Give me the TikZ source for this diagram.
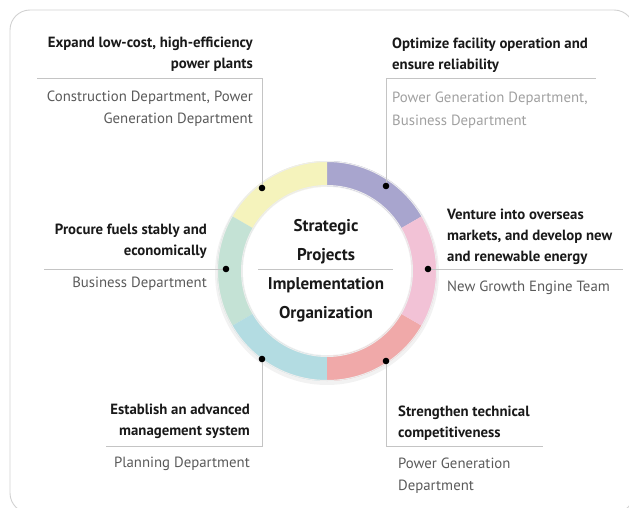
\documentclass[tikz,border=0pt]{standalone}
\usepackage{fontspec}
\setmainfont{PT Sans}
\usetikzlibrary{positioning}
\definecolor{ringyellow}{HTML}{F5F3BC}
\definecolor{ringpurple}{HTML}{A8A5CE}
\definecolor{ringpink}{HTML}{F2C2D6}
\definecolor{ringsalmon}{HTML}{F0A9A9}
\definecolor{ringblue}{HTML}{B3DCE2}
\definecolor{ringmint}{HTML}{C4E2D5}
\definecolor{deptgray}{HTML}{5A5A5A}
\definecolor{deptlight}{HTML}{A0A0A0}
\definecolor{leadgray}{HTML}{C4C4C4}

\begin{document}
\begin{tikzpicture}[x=1pt,y=-1pt,
  goal/.style={inner sep=0pt, font=\fontsize{14.8}{21}\selectfont\bfseries, text=black!90},
  dept/.style={inner sep=0pt, font=\fontsize{14.8}{22}\selectfont, text=deptgray},
  hub/.style={inner sep=0pt, align=center, font=\fontsize{17}{29}\selectfont\bfseries, text=black!90},
  leader/.style={leadgray, line width=0.8pt}]
\useasboundingbox (0,0) rectangle (629,508);
\draw[black!18, line width=0.9pt, rounded corners=20pt] (10,10) rectangle (634,513);

% ring
\begin{scope}[shift={(327,271)}, yscale=-1]
\fill[black!5] (0,-2) circle (112);
\fill[white] (0,0) circle (84);
\fill[ringpurple] (30:110) arc[start angle=30, end angle=90, radius=110] -- (90:85) arc[start angle=90, end angle=30, radius=85] -- cycle;
\fill[ringyellow] (90:110) arc[start angle=90, end angle=150, radius=110] -- (150:85) arc[start angle=150, end angle=90, radius=85] -- cycle;
\fill[ringmint] (150:110) arc[start angle=150, end angle=210, radius=110] -- (210:85) arc[start angle=210, end angle=150, radius=85] -- cycle;
\fill[ringblue] (210:110) arc[start angle=210, end angle=270, radius=110] -- (270:85) arc[start angle=270, end angle=210, radius=85] -- cycle;
\fill[ringsalmon] (270:110) arc[start angle=270, end angle=330, radius=110] -- (330:85) arc[start angle=330, end angle=270, radius=85] -- cycle;
\fill[ringpink] (-30:110) arc[start angle=-30, end angle=30, radius=110] -- (30:85) arc[start angle=30, end angle=-30, radius=85] -- cycle;
\draw[black!7, line width=1pt] (0,0) circle (109.5);
\draw[black!7, line width=1pt] (0,0) circle (85.5);
\end{scope}

% dots on the ring
\coordinate (dotyellow) at (262,188);
\coordinate (dotpurple) at (386,186);
\coordinate (dotpink) at (428,269);
\coordinate (dotsalmon) at (386,361);
\coordinate (dotblue) at (262,359);
\coordinate (dotmint) at (226,269);

% ends of the leaders
\coordinate (endyellow) at (37,78);
\coordinate (endpurple) at (596,78);
\coordinate (endpink) at (623,269);
\coordinate (endsalmon) at (543,446);
\coordinate (endblue) at (106,446);
\coordinate (endmint) at (44,269);
\coordinate (hubleft) at (258,269);
\coordinate (hubright) at (393,269);

\draw[leader] (dotyellow) |- (endyellow);
\draw[leader] (dotpurple) |- (endpurple);
\draw[leader] (dotpink) -- (endpink);
\draw[leader] (dotsalmon) |- (endsalmon);
\draw[leader] (dotblue) |- (endblue);
\draw[leader] (dotmint) -- (endmint);
\draw[leader] (hubleft) -- (hubright);

\fill[black] (dotyellow) circle (3.3);
\fill[black] (dotpurple) circle (3.3);
\fill[black] (dotpink) circle (3.3);
\fill[black] (dotsalmon) circle (3.3);
\fill[black] (dotblue) circle (3.3);
\fill[black] (dotmint) circle (3.3);

% centre
\node[hub, anchor=base] (strategic) at (326,260) {Strategic\\Projects};
\node[hub, anchor=base] (implementation) at (326,318) {Implementation\\Organization};

% goals and departments
\node[goal, anchor=base east, align=right] (expand) at (253,68.5) {Expand low-cost, high-efficiency\\power plants};
\node[dept, anchor=base east, align=right] (expanddept) at (253,123.5) {Construction Department, Power\\Generation Department};

\node[goal, anchor=base west, align=left] (optimize) at (392,70) {Optimize facility operation and\\ensure reliability};
\node[dept, anchor=base west, align=left, text=deptlight] (optimizedept) at (392,125) {Power Generation Department,\\Business Department};

\node[goal, anchor=base east, align=right] (procure) at (207,255) {Procure fuels stably and\\economically};
\node[dept, anchor=base east, align=right] (procuredept) at (207,287) {Business Department};

\node[goal, anchor=base west, align=left] (venture) at (447,261) {Venture into overseas\\markets, and develop new\\and renewable energy};
\node[dept, anchor=base west, align=left] (venturedept) at (447,291) {New Growth Engine Team};

\node[goal, anchor=base east, align=right] (establish) at (250,435) {Establish an advanced\\management system};
\node[dept, anchor=base east, align=right] (establishdept) at (250,467) {Planning Department};

\node[goal, anchor=base west, align=left] (strengthen) at (398,437) {Strengthen technical\\competitiveness};
\node[dept, anchor=base west, align=left] (strengthendept) at (398,490) {Power Generation\\Department};
\end{tikzpicture}
\end{document}
